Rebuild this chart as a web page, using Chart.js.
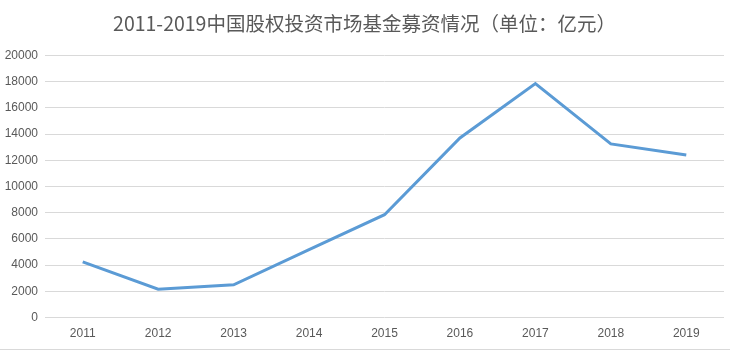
<!DOCTYPE html>
<html>
<head>
<meta charset="utf-8">
<script src="https://cdn.jsdelivr.net/npm/chart.js@4/dist/chart.umd.min.js"></script>
<style>
  html, body { margin: 0; padding: 0; background: #fff; }
  #wrap { width: 730px; height: 352px; position: relative; }
  #wrap:after { content: ""; position: absolute; left: 0; right: 0; top: 349px; height: 1px; background: #d9d9d9; }
</style>
</head>
<body>
<div id="wrap"><canvas id="fundChart" width="730" height="352"></canvas></div>
<script>
  // 2011-2019 fundraising, unit: 100 million yuan
  var years = ["2011","2012","2013","2014","2015","2016","2017","2018","2019"];
  var amounts = [4250, 2170, 2500, 5180, 7850, 13700, 17850, 13250, 12400];
  var yTicks = [0, 2000, 4000, 6000, 8000, 10000, 12000, 14000, 16000, 18000, 20000];
  var chartTitle = "2011-2019中国股权投资市场基金募资情况（单位：亿元）";

  var textColor = "#595959";
  var gridColor = "#d9d9d9";

  new Chart("fundChart", {
    type: "line",
    data: {
      labels: years,
      datasets: [{
        data: amounts,
        borderColor: "#5b9bd5",
        borderWidth: 3,
        pointRadius: 0,
        tension: 0,
        fill: false
      }]
    },
    options: {
      responsive: false,
      animation: false,
      layout: { padding: { left: 5, right: 6, top: 8, bottom: 2 } },
      plugins: {
        legend: { display: false },
        tooltip: { enabled: false },
        title: {
          display: true,
          text: chartTitle,
          color: textColor,
          font: { family: "'Noto Sans CJK SC', 'Liberation Sans', sans-serif", size: 19.5, weight: "normal" },
          padding: { top: 4, bottom: 20 }
        }
      },
      scales: {
        x: {
          offset: true,
          grid: { display: false, drawTicks: false },
          border: { display: false },
          ticks: {
            color: textColor,
            padding: 9,
            maxRotation: 0,
            font: { family: "'Liberation Sans', sans-serif", size: 12 }
          }
        },
        y: {
          min: 0,
          max: 20000,
          afterBuildTicks: function (axis) {
            axis.ticks = yTicks.map(function (v) { return { value: v }; });
          },
          afterFit: function (axis) { axis.width = 40; },
          grid: { color: gridColor, lineWidth: 1, drawTicks: false },
          border: { display: false },
          ticks: {
            color: textColor,
            padding: 7,
            font: { family: "'Liberation Sans', sans-serif", size: 12 },
            callback: function (v) { return String(v); }
          }
        }
      }
    }
  });
</script>
</body>
</html>
